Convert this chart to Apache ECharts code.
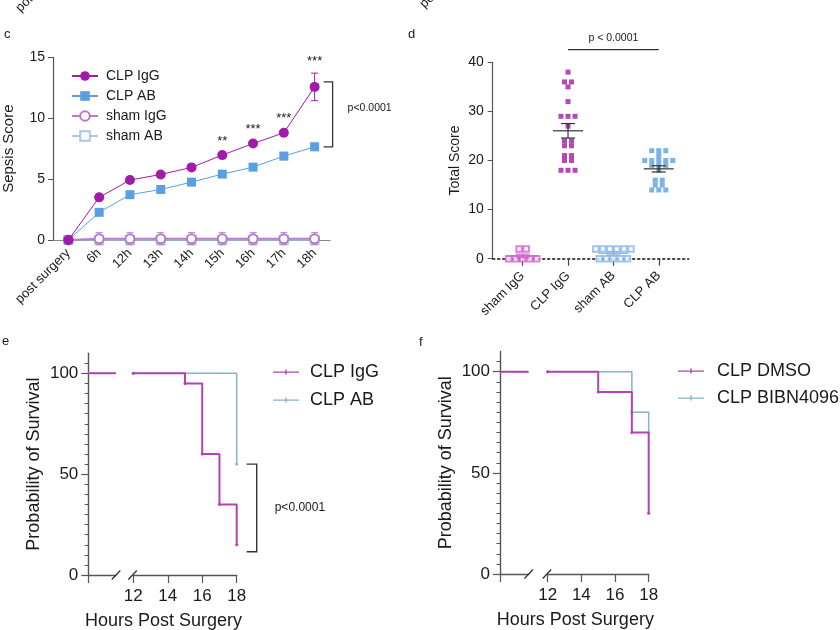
<!DOCTYPE html>
<html><head><meta charset="utf-8">
<script src="https://cdn.jsdelivr.net/npm/echarts@6/dist/echarts.min.js"></script>
<style>html,body{margin:0;padding:0;background:#fff}#c{width:840px;height:630px}</style>
</head><body><div id="c"></div>
<script>
// ---------- Panel c: sepsis score time course ----------
const timeCats   = ['post surgery','6h','12h','13h','14h','15h','16h','17h','18h'];
const clpIgG     = [0, 3.5, 4.92, 5.38, 5.96, 6.97, 7.92, 8.8, 12.57];
const clpIgGSem  = [0, 0.15, 0.15, 0.15, 0.15, 0.15, 0.15, 0.2, 1.13];
const clpAB      = [0, 2.27, 3.72, 4.15, 4.75, 5.41, 5.98, 6.89, 7.65];
const clpABSem   = [0, 0.15, 0.15, 0.15, 0.15, 0.15, 0.2, 0.3, 0.3];
const shamIgG    = [0, 0.1, 0.1, 0.1, 0.1, 0.1, 0.1, 0.1, 0.1];
const shamIgGSem = [0, 0.5, 0.5, 0.5, 0.5, 0.5, 0.5, 0.5, 0.5];
const shamAB     = [0, 0, 0, 0, 0, 0, 0, 0, 0];
const shamABSem  = [0, 0.3, 0.3, 0.3, 0.3, 0.3, 0.3, 0.3, 0.3];
const starsC     = ['', '', '', '', '', '**', '***', '***', '***'];
const pTextC     = 'p<0.0001';

// ---------- Panel d: total score ----------
const groupsD      = ['sham IgG','CLP IgG','sham AB','CLP AB'];
const shamIgGTotal = [2,2,0,0,0,0,0];
const clpIgGTotal  = [38,36,36,35,32,29,29,29,27,24,24,23,23,21,21,20,20,18,18,18];
const shamABTotal  = [2,2,2,2,2,2,0,0,0,0,0];
const clpABTotal   = [22,22,22,21,20,20,20,20,20,19,19,19,18,16,16,15,15,14,14,14];
const pTextD       = 'p < 0.0001';

// ---------- Panel e / f: survival ----------
const earlyHours   = [0, 6];
const earlySurv    = [100, 100];
const eIgGHours    = [12, 15, 16, 17, 18];
const eIgGSurv     = [100, 95, 60, 35, 15];
const eABHours     = [12, 18];
const eABSurv      = [100, 55];
const fDMSOHours   = [12, 15, 17, 18];
const fDMSOSurv    = [100, 90, 70, 30];
const fBIBNHours   = [12, 17, 18];
const fBIBNSurv    = [100, 80, 70];
const survMajor    = [0, 50, 100];
const survMinor    = [5,10,15,20,25,30,35,40,45,55,60,65,70,75,80,85,90,95,105];
const pTextE       = 'p<0.0001';
const xNameSurv    = 'Hours Post Surgery';
const yNameSurv    = 'Probability of Survival';

// ---------- styling ----------
const FONT = 'Liberation Sans, Arial, Helvetica, sans-serif';
const TXT = '#1a1a1a';
const AX = '#555';
const C_IGG = '#a01ca8', C_AB = '#5a9fe4', C_SIGG = '#b67ccb', C_SAB = '#aac8e8';
const D_SIGG = '#d060d0', D_SAB = '#86b6e8';
const S_MAG = '#b342b6', S_BLUE = '#86b2cc';

const zip = (a, b) => a.map((v, i) => [v, b[i]]);

function errBars(name, vals, sems, color, z) {
  return {
    type: 'custom', name, xAxisIndex: 0, yAxisIndex: 0, z, silent: true,
    data: vals.map((v, i) => [i, v - sems[i], v + sems[i]]),
    encode: { x: 0, y: [1, 2] },
    renderItem(params, api) {
      const hi = api.coord([api.value(0), api.value(2)]);
      const lo = api.coord([api.value(0), api.value(1)]);
      const w = 3.5, st = { stroke: color, lineWidth: 1 };
      return { type: 'group', children: [
        { type: 'line', shape: { x1: hi[0], y1: hi[1], x2: lo[0], y2: lo[1] }, style: st },
        { type: 'line', shape: { x1: hi[0] - w, y1: hi[1], x2: hi[0] + w, y2: hi[1] }, style: st },
        { type: 'line', shape: { x1: lo[0] - w, y1: lo[1], x2: lo[0] + w, y2: lo[1] }, style: st }
      ]};
    }
  };
}

function swarm(vals, g, step) {
  const counts = {}, seen = {};
  vals.forEach(v => counts[v] = (counts[v] || 0) + 1);
  return vals.map(v => {
    const k = seen[v] || 0; seen[v] = k + 1;
    return [g + (k - (counts[v] - 1) / 2) * step, v];
  });
}
function meanSem(a) {
  const n = a.length, m = a.reduce((s, v) => s + v, 0) / n;
  const sd = Math.sqrt(a.reduce((s, v) => s + (v - m) * (v - m), 0) / (n - 1));
  return [m, sd / Math.sqrt(n)];
}
const totals = [shamIgGTotal, clpIgGTotal, shamABTotal, clpABTotal];
const meanColors = [D_SIGG, '#333', D_SAB, '#333'];

const lbl = (size, extra) => Object.assign({ fontFamily: FONT, fontSize: size, color: TXT }, extra || {});
const axLine = (w) => ({ show: true, onZero: false, lineStyle: { color: AX, width: w || 1.2 } });

const survY = (grid, showIt) => ({
  gridIndex: grid, type: 'value', min: 0, max: 110, show: showIt,
  axisLine: axLine(1.4), splitLine: { show: false },
  axisTick: { show: true, length: 7, customValues: survMajor, lineStyle: { color: AX, width: 1.2 } },
  axisLabel: Object.assign(lbl(17), { customValues: survMajor, margin: 10 }),
  name: yNameSurv, nameLocation: 'middle', nameGap: 45, nameTextStyle: lbl(18)
});
const survMinorY = (grid) => ({
  gridIndex: grid, type: 'value', min: 0, max: 110, position: 'left',
  axisLine: { show: false }, splitLine: { show: false },
  axisTick: { show: true, length: 3.5, customValues: survMinor, lineStyle: { color: AX, width: 1 } },
  axisLabel: { show: false }
});
const earlyX = (grid) => ({
  gridIndex: grid, type: 'value', min: 0, max: 6,
  axisLine: axLine(1.4), splitLine: { show: false },
  axisTick: { show: true, length: 8, customValues: [0], lineStyle: { color: AX, width: 1.2 } },
  axisLabel: { show: false }
});
const lateX = (grid) => ({
  gridIndex: grid, type: 'value', min: 12, max: 18, interval: 2,
  axisLine: axLine(1.4), splitLine: { show: false },
  axisTick: { show: true, length: 8, lineStyle: { color: AX, width: 1.2 } },
  axisLabel: Object.assign(lbl(17), { margin: 13 })
});
const survLine = (name, xi, yi, data, color, width, sym, z) => ({
  type: 'line', name, xAxisIndex: xi, yAxisIndex: yi, data, step: 'end', z,
  symbol: sym ? 'circle' : 'none', symbolSize: 3, showSymbol: !!sym,
  itemStyle: { color }, lineStyle: { color, width }, animation: false
});
const legendPath = 'path://M0,2 L26,2 L26,3.3 L0,3.3 Z M12.3,0 L13.7,0 L13.7,5 L12.3,5 Z';

const chart = echarts.init(document.getElementById('c'));
const option = {
  animation: false,
  backgroundColor: '#fff',
  textStyle: { fontFamily: FONT },
  grid: [
    { left: 52, top: 57.3, width: 278, height: 182.7 },
    { left: 492.7, top: 62.3, width: 196, height: 196.4 },
    { left: 88.3, top: 353.2, width: 27.5, height: 221.8 },
    { left: 133.3, top: 353.2, width: 103.4, height: 221.8 },
    { left: 500, top: 351.5, width: 28.5, height: 222.5 },
    { left: 547.7, top: 351.5, width: 101, height: 222.5 }
  ],
  xAxis: [
    { gridIndex: 0, type: 'category', data: timeCats, boundaryGap: true,
      axisLine: { show: true, lineStyle: { color: '#888', width: 1.2 } }, axisTick: { show: false },
      axisLabel: Object.assign(lbl(13), { rotate: 45, margin: 11, interval: 0 }) },
    { gridIndex: 1, type: 'value', min: -0.66, max: 3.66, splitLine: { show: false },
      axisLine: { show: true, onZero: false, lineStyle: { color: '#111', width: 1.6, type: [2, 3] } },
      axisTick: { show: true, length: 7, customValues: [0, 1, 2, 3], lineStyle: { color: '#444', width: 1.2 } },
      axisLabel: Object.assign(lbl(13), { customValues: [0, 1, 2, 3], rotate: 45, margin: 15,
        formatter: v => groupsD[Math.round(v)] }) },
    earlyX(2), lateX(3), earlyX(4), lateX(5)
  ],
  yAxis: [
    { gridIndex: 0, type: 'value', min: 0, max: 15, interval: 5, splitLine: { show: false },
      axisLine: axLine(1.2), axisTick: { show: true, length: 5, lineStyle: { color: AX } },
      axisLabel: Object.assign(lbl(14), { margin: 8 }),
      name: 'Sepsis Score', nameLocation: 'middle', nameGap: 37, nameTextStyle: lbl(15) },
    { gridIndex: 1, type: 'value', min: 0, max: 40, interval: 10, splitLine: { show: false },
      axisLine: axLine(1.2), axisTick: { show: true, length: 5, lineStyle: { color: AX } },
      axisLabel: Object.assign(lbl(14), { margin: 9 }),
      name: 'Total Score', nameLocation: 'middle', nameGap: 31, nameTextStyle: lbl(14) },
    survY(2, true), survY(3, false), survY(4, true), survY(5, false),
    survMinorY(2), survMinorY(4)
  ],
  legend: [
    { left: 66, top: 64, orient: 'vertical', itemWidth: 26, itemHeight: 12, itemGap: 6,
      data: ['CLP IgG', 'CLP AB', 'sham IgG', 'sham AB'], textStyle: lbl(14, { padding: [0, 0, 0, 3] }), selectedMode: false },
    { left: 268, top: 358, orient: 'vertical', itemWidth: 26, itemHeight: 5, itemGap: 10,
      data: [{ name: 'CLP IgG ', icon: legendPath }, { name: 'CLP AB ', icon: legendPath }],
      textStyle: lbl(18, { padding: [0, 0, 0, 6] }), selectedMode: false },
    { left: 673, top: 357, orient: 'vertical', itemWidth: 26, itemHeight: 5, itemGap: 9,
      data: [{ name: 'CLP DMSO', icon: legendPath }, { name: 'CLP BIBN4096', icon: legendPath }],
      textStyle: lbl(18, { padding: [0, 0, 0, 8] }), selectedMode: false }
  ],
  series: [
    // ----- c -----
    { type: 'line', name: 'sham AB', xAxisIndex: 0, yAxisIndex: 0, data: shamAB, z: 2,
      symbol: 'emptyRect', symbolSize: 8, itemStyle: { color: C_SAB, borderWidth: 1.2 }, lineStyle: { color: C_SAB, width: 1.5 } },
    { type: 'line', name: 'sham IgG', xAxisIndex: 0, yAxisIndex: 0, data: shamIgG, z: 3,
      symbol: 'emptyCircle', symbolSize: 9, itemStyle: { color: C_SIGG, borderWidth: 1.2 }, lineStyle: { color: C_SIGG, width: 2 } },
    { type: 'line', name: 'CLP AB', xAxisIndex: 0, yAxisIndex: 0, data: clpAB, z: 4,
      symbol: 'rect', symbolSize: 9, itemStyle: { color: C_AB }, lineStyle: { color: C_AB, width: 1 } },
    { type: 'line', name: 'CLP IgG', xAxisIndex: 0, yAxisIndex: 0, data: clpIgG, z: 5,
      symbol: 'circle', symbolSize: 10, itemStyle: { color: C_IGG }, lineStyle: { color: C_IGG, width: 1 } },
    errBars('eb sham AB', shamAB, shamABSem, C_SAB, 2),
    errBars('eb sham IgG', shamIgG, shamIgGSem, C_SIGG, 3),
    errBars('eb CLP AB', clpAB, clpABSem, C_AB, 4),
    errBars('eb CLP IgG', clpIgG, clpIgGSem, C_IGG, 5),
    // ----- d -----
    { type: 'scatter', name: 'd sham IgG', xAxisIndex: 1, yAxisIndex: 1, data: swarm(shamIgGTotal, 0, 0.155),
      symbol: 'emptyRect', symbolSize: 5.5, itemStyle: { color: D_SIGG, borderWidth: 1.2 }, z: 4 },
    { type: 'scatter', name: 'd CLP IgG', xAxisIndex: 1, yAxisIndex: 1, data: swarm(clpIgGTotal, 1, 0.155),
      symbol: 'rect', symbolSize: 5, itemStyle: { color: C_IGG }, z: 4 },
    { type: 'scatter', name: 'd sham AB', xAxisIndex: 1, yAxisIndex: 1, data: swarm(shamABTotal, 2, 0.155),
      symbol: 'emptyRect', symbolSize: 5.5, itemStyle: { color: D_SAB, borderWidth: 1.2 }, z: 4 },
    { type: 'scatter', name: 'd CLP AB', xAxisIndex: 1, yAxisIndex: 1, data: swarm(clpABTotal, 3, 0.155),
      symbol: 'rect', symbolSize: 5, itemStyle: { color: C_AB }, z: 4 },
    { type: 'custom', name: 'd mean', xAxisIndex: 1, yAxisIndex: 1, z: 5, silent: true,
      data: totals.map((a, i) => { const ms = meanSem(a); return [i, ms[0], ms[1]]; }),
      encode: { x: 0, y: 1 },
      renderItem(params, api) {
        const x = api.value(0), m = api.value(1), s = api.value(2);
        const c = api.coord([x, m]), t = api.coord([x, m + s]), b = api.coord([x, m - s]);
        const st = { stroke: meanColors[params.dataIndex], lineWidth: 1.2 };
        return { type: 'group', children: [
          { type: 'line', shape: { x1: c[0] - 15, y1: c[1], x2: c[0] + 15, y2: c[1] }, style: st },
          { type: 'line', shape: { x1: t[0], y1: t[1], x2: b[0], y2: b[1] }, style: st },
          { type: 'line', shape: { x1: t[0] - 7, y1: t[1], x2: t[0] + 7, y2: t[1] }, style: st },
          { type: 'line', shape: { x1: b[0] - 7, y1: b[1], x2: b[0] + 7, y2: b[1] }, style: st }
        ]};
      } },
    // ----- e -----
    survLine('e early AB', 2, 2, zip(earlyHours, earlySurv), S_BLUE, 1.5, false, 2),
    survLine('e early IgG', 2, 2, zip(earlyHours, earlySurv), S_MAG, 2, false, 3),
    survLine('CLP AB ', 3, 3, zip(eABHours, eABSurv), S_BLUE, 1.5, true, 2),
    survLine('CLP IgG ', 3, 3, zip(eIgGHours, eIgGSurv), S_MAG, 2, true, 3),
    // ----- f -----
    survLine('f early BIBN', 4, 4, zip(earlyHours, earlySurv), S_BLUE, 1.5, false, 2),
    survLine('f early DMSO', 4, 4, zip(earlyHours, earlySurv), S_MAG, 2, false, 3),
    survLine('CLP BIBN4096', 5, 5, zip(fBIBNHours, fBIBNSurv), S_BLUE, 1.5, true, 2),
    survLine('CLP DMSO', 5, 5, zip(fDMSOHours, fDMSOSurv), S_MAG, 2, true, 3)
  ]
};
chart.setOption(option);

// ---------- annotations positioned from the axes ----------
const px = (xi, yi, x, y) => chart.convertToPixel({ xAxisIndex: xi, yAxisIndex: yi }, [x, y]);
const g = [];
const text = (x, y, t, size, align, vAlign, extra) => g.push(Object.assign({
  type: 'text', x, y, z: 50,
  style: { text: t, fontFamily: FONT, fontSize: size, fill: TXT, align: align || 'left', verticalAlign: vAlign || 'middle' }
}, extra || {}));
const poly = (pts, w) => g.push({ type: 'polyline', z: 50, shape: { points: pts }, style: { stroke: '#333', lineWidth: w || 1.2, fill: null } });

// panel letters
text(4, 34, 'c', 13, 'left'); text(408, 34, 'd', 13, 'left');
text(2, 341, 'e', 13, 'left'); text(419, 342, 'f', 13, 'left');
// cut-off labels from panels above
text(18, 10, 'post surgery', 13, 'left', 'middle', { rotation: Math.PI / 4 });
text(422, 6, 'post surgery', 13, 'left', 'middle', { rotation: Math.PI / 4 });

// c: stars
starsC.forEach((s, i) => {
  if (!s) return;
  const p = px(0, 0, i, clpIgG[i] + clpIgGSem[i]);
  text(p[0], p[1] - 12, s, 13, 'center');
});
// c: bracket
{
  const a = px(0, 0, 8, clpIgG[8]), b = px(0, 0, 8, clpAB[8]);
  const x = a[0] + 18, top = a[1] - 5, bot = b[1];
  poly([[x - 9, top], [x, top], [x, bot], [x - 9, bot]], 1.3);
  text(x + 15, (top + bot) / 2 - 6, pTextC, 10.5, 'left');
}
// d: significance line
{
  const a = px(1, 1, 1, 42.6), b = px(1, 1, 3, 42.6);
  poly([[a[0], a[1]], [b[0], b[1]]], 1.2);
  text((a[0] + b[0]) / 2, a[1] - 11, pTextD, 10.5, 'center');
}
// e: bracket
{
  const a = px(3, 3, 18, eABSurv[eABSurv.length - 1]), b = px(3, 3, 18, eIgGSurv[eIgGSurv.length - 1]);
  const x = a[0] + 20, top = a[1], bot = b[1] + 7;
  poly([[x - 10, top], [x, top], [x, bot], [x - 10, bot]], 1.4);
  text(x + 18, (top + bot) / 2, pTextE, 12, 'left');
}
// axis breaks and x titles
[[2, 3], [4, 5]].forEach(([l, r]) => {
  const a = px(l, l, 6, 0), b = px(r, r, 12, 0);
  poly([[a[0] - 4, a[1] + 4.5], [a[0] + 4.5, a[1] - 4.5]], 1.3);
  poly([[b[0] - 5, b[1] + 4.5], [b[0] + 3.5, b[1] - 4.5]], 1.3);
  const y0 = px(l, l, 0, 0);
  const e = px(r, r, 18, 0);
  text((y0[0] + e[0]) / 2 + 1, a[1] + 46, xNameSurv, 18, 'center');
});
chart.setOption({ graphic: g });
</script></body></html>
